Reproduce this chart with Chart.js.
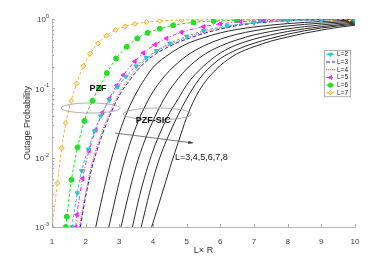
<!DOCTYPE html>
<html>
<head>
<meta charset="utf-8">
<script src="https://cdn.jsdelivr.net/npm/chart.js@4.4.0/dist/chart.umd.min.js"></script>
<style>
  html, body { margin: 0; padding: 0; background: #fff; }
  #chart { display: block; }
</style>
</head>
<body>
<canvas id="chart" width="392" height="256"></canvas>
<script>
// PZF curves (dashed, with markers), L = 2..7
const pzfL2x = [1.59, 1.75, 1.88, 2.08, 2.26, 2.45, 2.7, 2.95, 3.2, 3.5, 3.8, 4.1, 4.5, 5.0, 5.5, 6.2, 7.0, 8.0, 9.0, 10];
const pzfL2 = [0.001, 0.00309, 0.00646, 0.0132, 0.024, 0.0398, 0.0676, 0.105, 0.148, 0.209, 0.275, 0.347, 0.447, 0.562, 0.676, 0.794, 0.881, 0.944, 0.973, 0.989];

const pzfL3x = [1.84, 2.0, 2.2, 2.4, 2.6, 2.8, 3.0, 3.25, 3.5, 3.75, 4.0, 4.5, 5.0, 5.5, 6.0, 6.5, 7.0, 7.5, 8.0, 9.0, 10];
const pzfL3 = [0.001, 0.00275, 0.00759, 0.0158, 0.0295, 0.0501, 0.0794, 0.12, 0.174, 0.234, 0.295, 0.407, 0.513, 0.617, 0.716, 0.804, 0.867, 0.912, 0.944, 0.977, 0.991];

const pzfL4x = [1.81, 2.0, 2.2, 2.4, 2.6, 2.8, 3.0, 3.25, 3.5, 3.75, 4.0, 4.5, 5.0, 5.5, 6.0, 6.5, 7.0, 7.5, 8.0, 9.0, 10];
const pzfL4 = [0.001, 0.00316, 0.00871, 0.0178, 0.0331, 0.055, 0.0871, 0.132, 0.191, 0.251, 0.316, 0.427, 0.537, 0.646, 0.741, 0.822, 0.881, 0.923, 0.951, 0.979, 0.991];

const pzfL5x = [1.70, 1.74, 1.91, 2.10, 2.30, 2.5, 2.7, 2.92, 3.12, 3.46, 3.71, 4.06, 4.40, 4.85, 5.5, 6.0, 6.6, 7.3, 8.0, 9.0, 10];
const pzfL5 = [0.001, 0.00151, 0.00501, 0.0126, 0.0251, 0.0447, 0.0708, 0.11, 0.155, 0.245, 0.324, 0.427, 0.525, 0.646, 0.776, 0.851, 0.912, 0.951, 0.973, 0.989, 0.995];

const pzfL6x = [1.41, 1.44, 1.58, 1.76, 1.96, 2.2, 2.4, 2.63, 2.9, 3.22, 3.53, 3.84, 4.2, 4.6, 5.2, 5.8, 6.5, 7.2, 8.0, 9.0, 10];
const pzfL6 = [0.001, 0.00141, 0.00479, 0.0141, 0.0339, 0.0661, 0.102, 0.166, 0.269, 0.398, 0.525, 0.631, 0.724, 0.813, 0.891, 0.933, 0.962, 0.977, 0.986, 0.993, 0.998];

const pzfL7x = [1.0, 1.16, 1.29, 1.41, 1.57, 1.73, 1.93, 2.13, 2.37, 2.62, 2.89, 3.17, 3.46, 3.81, 4.2, 4.85, 5.4, 5.9, 6.43, 6.93, 7.52, 8.11, 8.75, 9.3, 9.84];
const pzfL7 = [0.001, 0.00427, 0.0138, 0.0316, 0.0661, 0.117, 0.209, 0.316, 0.447, 0.575, 0.692, 0.783, 0.847, 0.902, 0.938, 0.966, 0.979, 0.986, 0.991, 0.993, 0.995, 0.9966, 0.9977, 0.9984, 0.9989];

// PZF-SIC curves (solid black), L = 3..8
const sicL3x = [2.30, 2.5, 2.75, 3.0, 3.25, 3.5, 3.75, 4.0, 4.5, 5.0, 5.5, 6.0, 6.5, 7.0, 7.5, 8.0, 9.0, 10];
const sicL3 = [0.001, 0.00282, 0.00891, 0.0229, 0.0479, 0.0851, 0.135, 0.2, 0.316, 0.437, 0.537, 0.631, 0.708, 0.767, 0.817, 0.859, 0.92, 0.966];

const sicL4x = [2.69, 2.9, 3.1, 3.3, 3.5, 3.75, 4.0, 4.25, 4.5, 5.0, 5.5, 6.0, 6.5, 7.0, 7.5, 8.0, 9.0, 10];
const sicL4 = [0.001, 0.00282, 0.00708, 0.0151, 0.0282, 0.0537, 0.0891, 0.132, 0.182, 0.295, 0.407, 0.513, 0.603, 0.676, 0.741, 0.794, 0.871, 0.933];

const sicL5x = [3.05, 3.25, 3.5, 3.75, 4.0, 4.25, 4.5, 4.75, 5.0, 5.5, 6.0, 6.5, 7.0, 7.5, 8.0, 9.0, 10];
const sicL5 = [0.001, 0.00263, 0.00759, 0.0174, 0.0339, 0.0603, 0.0955, 0.138, 0.191, 0.302, 0.407, 0.501, 0.589, 0.661, 0.724, 0.822, 0.902];

const sicL6x = [3.39, 3.6, 3.8, 4.0, 4.25, 4.5, 4.75, 5.0, 5.25, 5.5, 6.0, 6.5, 7.0, 7.5, 8.0, 9.0, 10];
const sicL6 = [0.001, 0.00282, 0.00631, 0.0126, 0.0251, 0.0447, 0.0708, 0.112, 0.158, 0.209, 0.324, 0.427, 0.513, 0.589, 0.661, 0.776, 0.871];

const sicL7x = [3.65, 3.9, 4.1, 4.3, 4.5, 4.75, 5.0, 5.25, 5.5, 5.75, 6.0, 6.5, 7.0, 7.5, 8.0, 8.5, 9.0, 9.5, 10];
const sicL7 = [0.001, 0.00316, 0.00708, 0.0135, 0.0229, 0.0417, 0.0708, 0.112, 0.162, 0.214, 0.269, 0.363, 0.447, 0.525, 0.603, 0.676, 0.741, 0.794, 0.841];

const sicL8x = [3.96, 4.25, 4.5, 4.75, 5.0, 5.25, 5.5, 5.75, 6.0, 6.5, 7.0, 7.5, 8.0, 8.5, 9.0, 9.5, 10];
const sicL8 = [0.001, 0.00282, 0.00708, 0.0166, 0.038, 0.0724, 0.115, 0.162, 0.214, 0.316, 0.398, 0.479, 0.55, 0.624, 0.692, 0.759, 0.813];

// axes
const xTicks = [1, 2, 3, 4, 5, 6, 7, 8, 9, 10];
const yTicks = [0.001, 0.01, 0.1, 1];
const yTickExp = ['-3', '-2', '-1', '0'];
const legendLabels = ['L=2', 'L=3', 'L=4', 'L=5', 'L=6', 'L=7'];

// annotations (data coordinates)
const pzfEllipse = { x: 2.15, dx: 0.875, y: 0.052, yLow: 0.044, yHigh: 0.0614 };
const sicEllipse = { x: 4.13, dx: 1.01, y: 0.0427, yLow: 0.035, yHigh: 0.052 };
const pzfText = { x: 2.37, y: 0.101, text: 'PZF' };
const sicText = { x: 4.01, y: 0.0341, text: 'PZF-SIC' };
const arrow = { x1: 2.87, y1: 0.0227, x2: 5.19, y2: 0.0163 };
const arrowText = { x: 4.65, y: 0.0102, text: 'L=3,4,5,6,7,8' };

const pts = (xs, ys) => xs.map((x, i) => ({ x: x, y: ys[i] }));

const FONT = '"Liberation Sans", Arial, Helvetica, sans-serif';
Chart.defaults.font.family = FONT;

function pzfSet(label, xs, ys, color, dash, style, rot, fill) {
  return {
    label: label,
    data: pts(xs, ys),
    inLegend: true,
    borderColor: color,
    borderWidth: 1,
    borderDash: dash,
    pointStyle: style,
    pointRotation: rot,
    pointRadius: style ? 2.5 : 0,
    pointBorderWidth: 1,
    pointBorderColor: color,
    pointBackgroundColor: fill,
    cubicInterpolationMode: 'monotone',
    fill: false
  };
}

function sicSet(label, xs, ys) {
  return {
    label: label,
    data: pts(xs, ys),
    borderColor: '#2b2b2b',
    borderWidth: 1,
    pointRadius: 0,
    cubicInterpolationMode: 'monotone',
    fill: false
  };
}

const datasets = [
  pzfSet(legendLabels[0], pzfL2x, pzfL2, '#2ec4c9', [3, 2], 'triangle', 180, '#2ec4c9'),
  pzfSet(legendLabels[1], pzfL3x, pzfL3, '#1f1fff', [4, 2], false, 0, '#1f1fff'),
  pzfSet(legendLabels[2], pzfL4x, pzfL4, '#ff4a4a', [1, 1], false, 0, '#ff4a4a'),
  pzfSet(legendLabels[3], pzfL5x, pzfL5, '#ff22ff', [4, 2, 1, 2], 'triangle', 270, '#ff22ff'),
  pzfSet(legendLabels[4], pzfL6x, pzfL6, '#22e022', [3, 2], 'circle', 0, '#22e022'),
  pzfSet(legendLabels[5], pzfL7x, pzfL7, '#f2b43c', [3, 2], 'rectRot', 0, '#fde3a8'),
  sicSet('SIC L=3', sicL3x, sicL3),
  sicSet('SIC L=4', sicL4x, sicL4),
  sicSet('SIC L=5', sicL5x, sicL5),
  sicSet('SIC L=6', sicL6x, sicL6),
  sicSet('SIC L=7', sicL7x, sicL7),
  sicSet('SIC L=8', sicL8x, sicL8)
];

// small inward ticks, MATLAB style, plus 10^n labels with a small exponent
const axisDecor = {
  id: 'axisDecor',
  afterDraw(chart) {
    const { ctx, chartArea: a, scales: { x, y } } = chart;
    ctx.save();
    ctx.strokeStyle = '#aaa';
    ctx.lineWidth = 1;
    ctx.beginPath();
    xTicks.forEach(v => {
      const px = Math.round(x.getPixelForValue(v)) + 0.5;
      ctx.moveTo(px, a.bottom);
      ctx.lineTo(px, a.bottom - 3);
    });
    for (let e = -3; e < 0; e++) {
      for (let m = 1; m <= 9; m++) {
        const py = Math.round(y.getPixelForValue(m * Math.pow(10, e))) + 0.5;
        ctx.moveTo(a.left, py);
        ctx.lineTo(a.left + (m === 1 ? 3 : 2), py);
      }
    }
    const top = Math.round(y.getPixelForValue(1)) + 0.5;
    ctx.moveTo(a.left, top);
    ctx.lineTo(a.left + 3, top);
    ctx.stroke();

    ctx.fillStyle = '#444';
    ctx.textBaseline = 'middle';
    ctx.textAlign = 'left';
    yTicks.forEach((v, i) => {
      const py = y.getPixelForValue(v);
      ctx.font = '5.5px ' + FONT;
      const ew = ctx.measureText(yTickExp[i]).width;
      ctx.font = '8px ' + FONT;
      const bw = ctx.measureText('10').width;
      const right = a.left - 3;
      ctx.fillText('10', right - ew - bw, py + 1);
      ctx.font = '5.5px ' + FONT;
      ctx.fillText(yTickExp[i], right - ew, py - 2.5);
    });
    ctx.restore();
  }
};

// legend box inside the plot
const boxLegend = {
  id: 'boxLegend',
  afterDraw(chart) {
    const { ctx, chartArea: a } = chart;
    const items = chart.data.datasets.filter(d => d.inLegend);
    const left = a.right - 31, top = a.top + 31, w = 26, rowH = 7.7;
    ctx.save();
    ctx.fillStyle = '#fff';
    ctx.fillRect(left, top, w, rowH * items.length);
    ctx.strokeStyle = '#b0b0b0';
    ctx.lineWidth = 1;
    ctx.strokeRect(left + 0.5, top + 0.5, w, rowH * items.length);
    items.forEach((d, i) => {
      const cy = top + 4.3 + i * rowH;
      ctx.strokeStyle = d.borderColor;
      ctx.lineWidth = 1;
      ctx.setLineDash(d.borderDash || []);
      ctx.beginPath();
      ctx.moveTo(left + 2, cy);
      ctx.lineTo(left + 11, cy);
      ctx.stroke();
      ctx.setLineDash([]);
      if (d.pointRadius > 0 && Chart.helpers && Chart.helpers.drawPoint) {
        ctx.fillStyle = d.pointBackgroundColor;
        ctx.strokeStyle = d.borderColor;
        ctx.lineWidth = 1;
        Chart.helpers.drawPoint(ctx, { pointStyle: d.pointStyle, rotation: d.pointRotation || 0, radius: 2.2, borderWidth: 1 }, left + 6.5, cy);
      }
      ctx.fillStyle = '#222';
      ctx.font = '6.5px ' + FONT;
      ctx.textBaseline = 'middle';
      ctx.textAlign = 'left';
      ctx.fillText(d.label, left + 13, cy + 0.3);
    });
    ctx.restore();
  }
};

// ellipses, labels and arrow
const notes = {
  id: 'notes',
  afterDatasetsDraw(chart) {
    const { ctx, scales: { x, y } } = chart;
    ctx.save();
    ctx.strokeStyle = '#9a9a9a';
    ctx.lineWidth = 0.8;
    [pzfEllipse, sicEllipse].forEach(e => {
      const cx = x.getPixelForValue(e.x), cy = y.getPixelForValue(e.y);
      const rx = x.getPixelForValue(e.x + e.dx) - cx;
      const ry = (y.getPixelForValue(e.yLow) - y.getPixelForValue(e.yHigh)) / 2;
      ctx.beginPath();
      ctx.ellipse(cx, cy, rx, ry, 0, 0, 2 * Math.PI);
      ctx.stroke();
    });

    ctx.fillStyle = '#111';
    ctx.textBaseline = 'middle';
    ctx.textAlign = 'center';
    ctx.font = 'bold 9px ' + FONT;
    [pzfText, sicText].forEach(t => {
      ctx.fillText(t.text, x.getPixelForValue(t.x), y.getPixelForValue(t.y));
    });

    // arrow
    const x1 = x.getPixelForValue(arrow.x1), y1 = y.getPixelForValue(arrow.y1);
    const x2 = x.getPixelForValue(arrow.x2), y2 = y.getPixelForValue(arrow.y2);
    const ang = Math.atan2(y2 - y1, x2 - x1);
    ctx.strokeStyle = '#555';
    ctx.lineWidth = 0.8;
    ctx.beginPath();
    ctx.moveTo(x1, y1);
    ctx.lineTo(x2, y2);
    ctx.stroke();
    ctx.fillStyle = '#333';
    ctx.beginPath();
    ctx.moveTo(x2, y2);
    ctx.lineTo(x2 - 5 * Math.cos(ang - 0.35), y2 - 5 * Math.sin(ang - 0.35));
    ctx.lineTo(x2 - 5 * Math.cos(ang + 0.35), y2 - 5 * Math.sin(ang + 0.35));
    ctx.closePath();
    ctx.fill();

    ctx.fillStyle = '#111';
    ctx.textAlign = 'left';
    ctx.font = '9px ' + FONT;
    ctx.fillText(arrowText.text, x.getPixelForValue(arrowText.x), y.getPixelForValue(arrowText.y));
    ctx.restore();
  }
};

new Chart(document.getElementById('chart'), {
  type: 'line',
  data: { datasets: datasets },
  options: {
    responsive: false,
    animation: false,
    events: [],
    layout: { padding: { top: 19, right: 37, left: 0, bottom: 0 } },
    plugins: {
      legend: { display: false },
      tooltip: { enabled: false }
    },
    scales: {
      x: {
        type: 'linear',
        min: 1,
        max: 10,
        afterBuildTicks: s => { s.ticks = xTicks.map(v => ({ value: v })); },
        afterFit: s => { s.height = 29; },
        grid: { display: false },
        border: { display: true, color: '#b8b8b8', width: 1 },
        ticks: { color: '#444', font: { size: 8 }, padding: 2, maxRotation: 0 },
        title: { display: true, text: 'L\u00d7 R', color: '#333', font: { size: 9 }, padding: { top: 8, bottom: 0 } }
      },
      y: {
        type: 'logarithmic',
        min: 0.001,
        max: 1,
        afterBuildTicks: s => { s.ticks = yTicks.map(v => ({ value: v })); },
        afterFit: s => { s.width = 52; },
        grid: { display: false },
        border: { display: true, color: '#b8b8b8', width: 1 },
        ticks: { display: false },
        title: { display: true, text: 'Outage Probability', color: '#333', font: { size: 9 }, padding: { top: 22, bottom: 0 } }
      }
    }
  },
  plugins: [axisDecor, notes, boxLegend]
});
</script>
</body>
</html>
